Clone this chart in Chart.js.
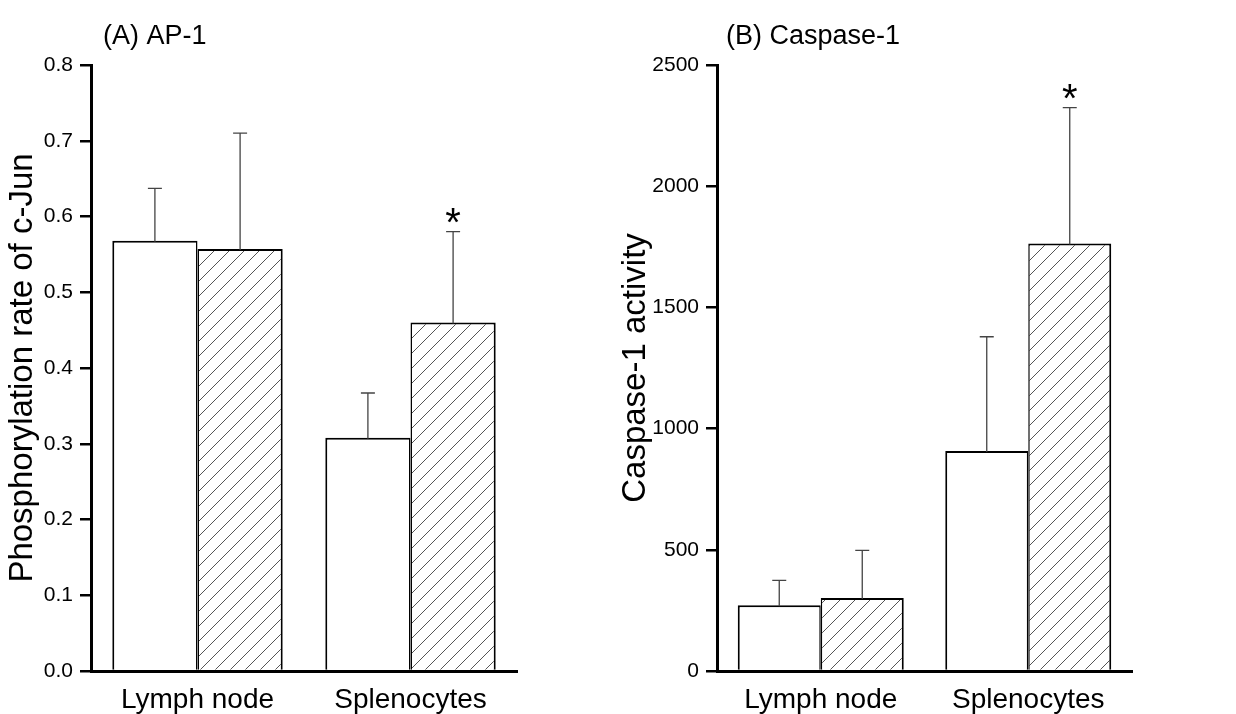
<!DOCTYPE html>
<html>
<head>
<meta charset="utf-8">
<script src="https://cdn.jsdelivr.net/npm/chart.js@4.4.1/dist/chart.umd.min.js"></script>
<style>
  body { margin: 0; background: #fff; }
  #wrap { position: relative; width: 1236px; height: 714px; overflow: hidden; }
  canvas { position: absolute; top: 0; }
  #chartA { left: 0; }
  #chartB { left: 600px; }
</style>
</head>
<body>
<div id="wrap">
  <canvas id="chartA" width="600" height="714"></canvas>
  <canvas id="chartB" width="636" height="714"></canvas>
</div>
<script>
const categories = ["Lymph node", "Splenocytes"];

// (A) AP-1
const ap1Control = [0.568, 0.308];
const ap1ControlErr = [0.069, 0.059];
const ap1Treated = [0.557, 0.46];
const ap1TreatedErr = [0.153, 0.12];
const ap1ControlMarks = ["", ""];
const ap1TreatedMarks = ["", "*"];
const ap1Ticks = ["0.0", "0.1", "0.2", "0.3", "0.4", "0.5", "0.6", "0.7", "0.8"];

// (B) Caspase-1
const caspControl = [271, 908];
const caspControlErr = [103, 471];
const caspTreated = [301, 1764];
const caspTreatedErr = [197, 560];
const caspControlMarks = ["", ""];
const caspTreatedMarks = ["", "*"];
const caspTicks = ["0", "500", "1000", "1500", "2000", "2500"];

const FONT = "'Liberation Sans', Arial, sans-serif";
Chart.defaults.font.family = FONT;
Chart.defaults.color = "#000";

function hatchPattern() {
  const c = document.createElement("canvas");
  c.width = 15;
  c.height = 15;
  const g = c.getContext("2d");
  g.fillStyle = "#fff";
  g.fillRect(0, 0, 15, 15);
  g.strokeStyle = "#555";
  g.lineWidth = 1;
  g.beginPath();
  g.moveTo(0, 15); g.lineTo(15, 0);
  g.moveTo(-15, 15); g.lineTo(15, -15);
  g.moveTo(0, 30); g.lineTo(30, 0);
  g.stroke();
  return g.createPattern(c, "repeat");
}

const errorBars = {
  id: "errorBars",
  afterDatasetsDraw(chart) {
    const ctx = chart.ctx;
    const yScale = chart.scales.y;
    chart.data.datasets.forEach((ds, i) => {
      const meta = chart.getDatasetMeta(i);
      meta.data.forEach((bar, j) => {
        const top = yScale.getPixelForValue(ds.data[j] + ds.errors[j]);
        ctx.save();
        ctx.strokeStyle = "#444";
        ctx.lineWidth = 1.3;
        ctx.beginPath();
        ctx.moveTo(bar.x, bar.y + 1);
        ctx.lineTo(bar.x, top);
        ctx.moveTo(bar.x - 7, top);
        ctx.lineTo(bar.x + 7, top);
        ctx.stroke();
        if (ds.marks[j]) {
          ctx.fillStyle = "#000";
          ctx.font = "40px " + FONT;
          ctx.textAlign = "center";
          ctx.textBaseline = "alphabetic";
          ctx.fillText(ds.marks[j], bar.x, top + 4);
        }
        ctx.restore();
      });
    });
  },
};

const panelTitle = {
  id: "panelTitle",
  afterDraw(chart, args, opts) {
    const ctx = chart.ctx;
    ctx.save();
    ctx.fillStyle = "#000";
    ctx.font = opts.size + "px " + FONT;
    ctx.textAlign = "left";
    ctx.textBaseline = "alphabetic";
    ctx.fillText(opts.text, opts.x, opts.y);
    ctx.restore();
  },
};

function createChart(canvas, p) {
  return new Chart(canvas, {
    type: "bar",
    data: {
      labels: categories,
      datasets: [
        {
          data: p.control,
          errors: p.controlErr,
          marks: p.controlMarks,
          backgroundColor: "#fff",
          borderColor: "#000",
          borderWidth: { top: 2, left: 2, right: 1.5, bottom: 0 },
        },
        {
          data: p.treated,
          errors: p.treatedErr,
          marks: p.treatedMarks,
          backgroundColor: hatchPattern(),
          borderColor: "#000",
          borderWidth: { top: 2, left: 1.5, right: 2, bottom: 0 },
        },
      ],
    },
    options: {
      responsive: false,
      animation: false,
      categoryPercentage: 0.8,
      barPercentage: 1,
      layout: { padding: { top: 65, right: p.padRight, bottom: 0, left: 0 } },
      plugins: {
        legend: { display: false },
        tooltip: { enabled: false },
        panelTitle: { text: p.title, x: p.titleX, y: 44, size: p.titleSize },
      },
      scales: {
        x: {
          grid: { display: true, drawOnChartArea: false, drawTicks: false },
          border: { color: "#000", width: 3 },
          ticks: { color: "#000", font: { size: 28 }, padding: 12 },
          afterFit(s) { s.height = 43; },
        },
        y: {
          min: p.min,
          max: p.max,
          ticks: {
            stepSize: p.step,
            color: "#000",
            font: { size: 21 },
            padding: 7,
            callback: (v, i) => p.ticks[i],
          },
          grid: { drawOnChartArea: false, drawTicks: true, tickLength: 11, color: "#000", lineWidth: 2.5 },
          border: { color: "#000", width: 3 },
          title: {
            display: true,
            text: p.yTitle,
            color: "#000",
            font: { size: 33 },
            padding: { top: p.yTitlePad, bottom: 0 },
          },
          afterFit(s) { s.width = p.yWidth; },
        },
      },
    },
    plugins: [errorBars, panelTitle],
  });
}

const chartA = createChart(document.getElementById("chartA"), {
  control: ap1Control,
  controlErr: ap1ControlErr,
  controlMarks: ap1ControlMarks,
  treated: ap1Treated,
  treatedErr: ap1TreatedErr,
  treatedMarks: ap1TreatedMarks,
  ticks: ap1Ticks,
  min: 0,
  max: 0.8,
  step: 0.1,
  yTitle: "Phosphorylation rate of c-Jun",
  yTitlePad: 3,
  yWidth: 91,
  padRight: 83,
  title: "(A) AP-1",
  titleX: 103,
  titleSize: 27,
});

const chartB = createChart(document.getElementById("chartB"), {
  control: caspControl,
  controlErr: caspControlErr,
  controlMarks: caspControlMarks,
  treated: caspTreated,
  treatedErr: caspTreatedErr,
  treatedMarks: caspTreatedMarks,
  ticks: caspTicks,
  min: 0,
  max: 2500,
  step: 500,
  yTitle: "Caspase-1 activity",
  yTitlePad: 16,
  yWidth: 117,
  padRight: 104,
  title: "(B) Caspase-1",
  titleX: 126,
  titleSize: 27,
});
</script>
</body>
</html>
